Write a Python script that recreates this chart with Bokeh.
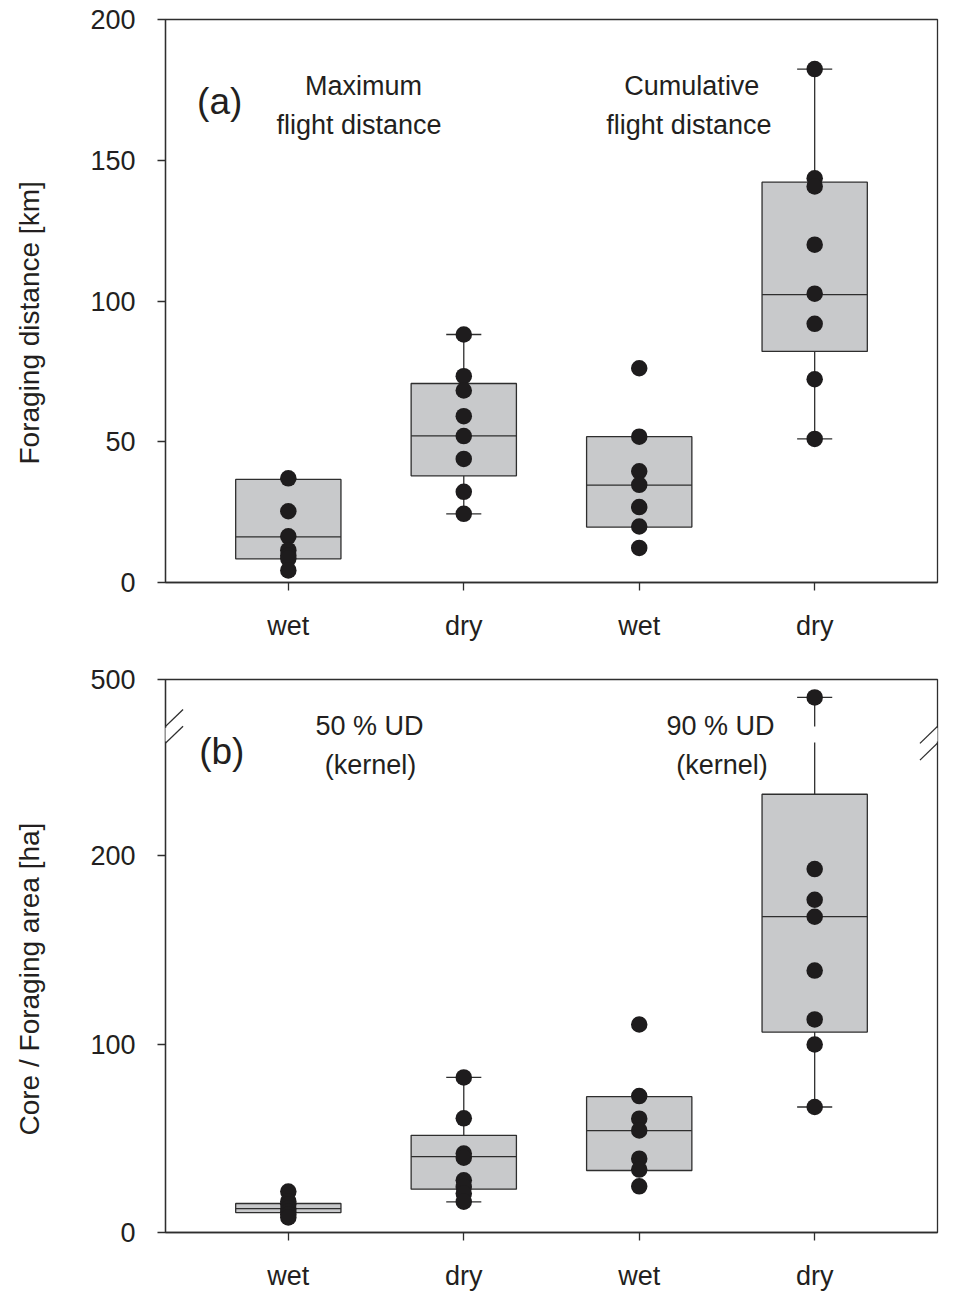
from bokeh.plotting import figure
from bokeh.models import Range1d, FixedTicker, Label, Arrow, ColumnDataSource, Title
from bokeh.layouts import column
from bokeh.embed import file_html
from bokeh.resources import INLINE

# ---------------- data ----------------
categories = ["wet", "dry", "wet", "dry"]
positions = [1, 2, 3, 4]

# Panel (a): foraging distance [km]
dist_max_wet = [37.0, 25.3, 16.4, 11.5, 9.5, 8.5, 4.3]
dist_max_dry = [88.1, 73.3, 68.2, 59.1, 52.0, 43.9, 32.2, 24.4]
dist_cum_wet = [76.1, 51.8, 39.5, 34.7, 26.8, 19.9, 12.3]
dist_cum_dry = [182.4, 143.6, 140.7, 120.0, 102.6, 91.9, 72.2, 51.0]
a_q1 = [8.4, 37.9, 19.7, 82.1]
a_med = [16.2, 52.1, 34.6, 102.3]
a_q3 = [36.6, 70.7, 51.8, 142.2]
a_wlo = [None, 24.4, None, 51.0]
a_whi = [None, 88.1, None, 182.4]

# Panel (b): core / foraging area [ha]
area_50_wet = [21.7, 16.5, 15.0, 12.7, 11.0, 9.5, 8.0]
area_50_dry = [82.3, 60.6, 41.9, 39.7, 27.7, 24.2, 20.7, 16.3]
area_90_wet = [110.4, 72.4, 60.4, 54.2, 39.2, 33.4, 24.5]
area_90_dry = [462.0, 192.9, 176.6, 167.6, 139.0, 113.1, 99.8, 66.6]
b_q1 = [10.6, 23.0, 32.9, 106.4]
b_med = [12.7, 40.3, 54.1, 167.6]
b_q3 = [15.4, 51.6, 72.1, 232.6]
b_wlo = [None, 16.3, None, 66.6]
b_whi = [None, 82.3, None, 462.0]

a_ticks = [0, 50, 100, 150, 200]
b_ticks = [0, 100, 200, 500]

# ---------------- style ----------------
FONT = "Liberation Sans"
TXT = "#231f20"
EDGE = "#2e2e2e"
BOX_FILL = "#c8c9cb"
DOT = "#1e1c1d"
BOX_W = 0.6
CAP_W = 0.2
FS = "27px"

# axis break for panel (b)
BREAK_LO, BREAK_HI = 260.0, 400.0
GAP = 8.5
UPPER_SCALE = 0.25


def fb(v):
    return v if v <= BREAK_LO else BREAK_LO + GAP + (v - BREAK_HI) * UPPER_SCALE


def ident(v):
    return v


def make_fig(height, ymax, top, bottom, ticks, tf, label_standoff, ytitle, title_offset):
    p = figure(width=954, height=height, x_range=Range1d(0.3, 4.7),
               y_range=Range1d(0, ymax), output_backend="svg",
               toolbar_location=None, min_border_left=165, min_border_right=17,
               min_border_top=top, min_border_bottom=bottom)
    p.grid.visible = False
    p.background_fill_color = "white"
    p.border_fill_color = "white"
    p.outline_line_color = EDGE
    p.outline_line_width = 1.3
    p.outline_line_alpha = 1.0
    for ax in (p.xaxis[0], p.yaxis[0]):
        ax.axis_line_color = EDGE
        ax.axis_line_width = 1.3
        ax.major_tick_line_color = EDGE
        ax.major_tick_line_width = 1.3
        ax.major_tick_in = 0
        ax.major_tick_out = 8
        ax.minor_tick_line_color = None
        ax.major_label_text_font = FONT
        ax.major_label_text_font_size = FS
        ax.major_label_text_color = TXT
    p.xaxis.ticker = FixedTicker(ticks=positions)
    p.xaxis.major_label_overrides = {pos: c for pos, c in zip(positions, categories)}
    p.xaxis.major_label_standoff = label_standoff
    mapped = [tf(t) for t in ticks]
    p.yaxis.ticker = FixedTicker(ticks=mapped)
    p.yaxis.major_label_overrides = {m: str(t) for m, t in zip(mapped, ticks)}
    p.yaxis.major_label_standoff = 22
    # spacer between tick labels and the vertical axis title
    p.add_layout(Title(text=" ", text_font_size="1px", standoff=28), "left")
    p.add_layout(Title(text=ytitle, align="left", offset=title_offset,
                       vertical_align="middle", standoff=22,
                       text_font=FONT, text_font_size="28px",
                       text_font_style="normal", text_color=TXT), "left")
    return p


def draw_groups(p, groups, q1, med, q3, wlo, whi, tf):
    # whiskers (split at the axis break if needed)
    wx0, wy0, wx1, wy1 = [], [], [], []
    cx0, cx1, cy = [], [], []
    for x, lo, hi, a, b in zip(positions, wlo, whi, q1, q3):
        if lo is None:
            continue
        wx0.append(x); wy0.append(tf(a)); wx1.append(x); wy1.append(tf(lo))
        if hi > BREAK_LO and tf is fb:
            wx0 += [x, x]; wy0 += [tf(b), tf(BREAK_HI)]
            wx1 += [x, x]; wy1 += [BREAK_LO, tf(hi)]
        else:
            wx0.append(x); wy0.append(tf(b)); wx1.append(x); wy1.append(tf(hi))
        for v in (lo, hi):
            cx0.append(x - CAP_W / 2); cx1.append(x + CAP_W / 2); cy.append(tf(v))
    p.segment(x0=wx0, y0=wy0, x1=wx1, y1=wy1, line_color=EDGE, line_width=1.3)
    p.segment(x0=cx0, y0=cy, x1=cx1, y1=cy, line_color=EDGE, line_width=1.3)
    # boxes
    src = ColumnDataSource(dict(x=positions, q1=[tf(v) for v in q1],
                                q3=[tf(v) for v in q3], med=[tf(v) for v in med],
                                x0=[x - BOX_W / 2 for x in positions],
                                x1=[x + BOX_W / 2 for x in positions]))
    p.vbar(x="x", width=BOX_W, bottom="q1", top="q3", source=src,
           fill_color=BOX_FILL, line_color=EDGE, line_width=1.3)
    p.segment(x0="x0", y0="med", x1="x1", y1="med", source=src,
              line_color=EDGE, line_width=1.3)
    # individual points
    px, py = [], []
    for x, vals in zip(positions, groups):
        px += [x] * len(vals)
        py += [tf(v) for v in vals]
    p.scatter(x=px, y=py, size=16.5, fill_color=DOT, line_color=None)


def add_text(p, x, y, text, size=FS, align="center"):
    p.add_layout(Label(x=x, y=y, text=text, text_font=FONT, text_font_size=size,
                       text_color=TXT, text_align=align, text_baseline="alphabetic"))


# ---------------- panel (a) ----------------
pa = make_fig(650, 200, 19, 68, a_ticks, ident, 20, "Foraging distance [km]", 118)
draw_groups(pa, [dist_max_wet, dist_max_dry, dist_cum_wet, dist_cum_dry],
            a_q1, a_med, a_q3, a_wlo, a_whi, ident)
add_text(pa, 1.4285, 176.3, "Maximum")
add_text(pa, 1.403, 162.5, "flight distance")
add_text(pa, 3.300, 176.3, "Cumulative")
add_text(pa, 3.283, 162.5, "flight distance")
add_text(pa, 0.480, 170.8, "(a)", size="37px", align="left")

# ---------------- panel (b) ----------------
pb = make_fig(643, fb(500), 29, 59, b_ticks, fb, 20, "Core / Foraging area [ha]", 97)
draw_groups(pb, [area_50_wet, area_50_dry, area_90_wet, area_90_dry],
            b_q1, b_med, b_q3, b_wlo, b_whi, fb)
add_text(pb, 1.4627, 268.9, "50 % UD")
add_text(pb, 1.468, 248.2, "(kernel)")
add_text(pb, 3.463, 268.9, "90 % UD")
add_text(pb, 3.472, 248.2, "(kernel)")
add_text(pb, 0.492, 255.3, "(b)", size="37px", align="left")

# break marks on both vertical frame edges
for xe in (0.3, 4.7):
    pb.add_layout(Arrow(end=None, x_start=xe, y_start=BREAK_LO + 0.6,
                        x_end=xe, y_end=BREAK_LO + GAP - 0.6,
                        line_color="white", line_width=5))
    for y0 in (BREAK_LO - 9.3, BREAK_LO - 0.4):
        pb.add_layout(Arrow(end=None, x_start=xe - 0.1, y_start=y0,
                            x_end=xe + 0.1, y_end=y0 + 18.0,
                            line_color=EDGE, line_width=1.3))

layout = column(pa, pb)
open("out.html", "w").write(file_html(layout, INLINE))
